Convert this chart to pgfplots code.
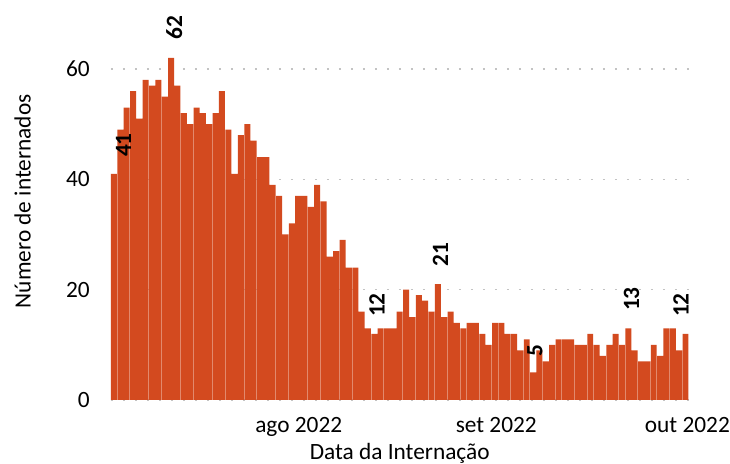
\documentclass[border=0pt]{standalone}
\usepackage{fontspec}
\setmainfont{Carlito}
\usepackage{pgfplots}
\pgfplotsset{compat=1.18}
\definecolor{barcol}{RGB}{211,74,31}
\definecolor{gridcol}{RGB}{195,195,195}
\begin{document}
\begin{tikzpicture}
\begin{axis}[
  at={(0,0)}, anchor=south west,
  scale only axis,
  width=433.4pt, height=273.1pt,
  xmin=0.5, xmax=91.5, ymin=0, ymax=66,
  axis line style={draw=none},
  clip=false,
  font=\fontsize{17.5}{21}\selectfont,
  /pgf/number format/assume math mode=true,
  ytick={0,20,40,60},
  xtick={30.1,61.2,91.3},
  xticklabels={ago 2022,set 2022,out 2022},
  major tick length=0pt,
  ymajorgrids,
  grid style={gridcol, line width=1.1pt, dash pattern=on 1.3pt off 7.7pt},
  yticklabel style={anchor=east, inner sep=0pt, xshift=-15.6pt},
  xticklabel style={anchor=base, inner sep=0pt, yshift=-24pt},
]
\addplot[ybar, bar width=0.94, fill=barcol, draw=none] coordinates {
(1,41) (2,49) (3,53) (4,56) (5,51) (6,58) (7,57) (8,58) (9,55) (10,62)
(11,57) (12,52) (13,50) (14,53) (15,52) (16,50) (17,52) (18,56) (19,49) (20,41)
(21,48) (22,50) (23,47) (24,44) (25,44) (26,39) (27,37) (28,30) (29,32) (30,37)
(31,37) (32,35) (33,39) (34,36) (35,26) (36,27) (37,29) (38,24) (39,24) (40,16)
(41,13) (42,12) (43,13) (44,13) (45,13) (46,16) (47,20) (48,15) (49,19) (50,18)
(51,16) (52,21) (53,15) (54,16) (55,14) (56,13) (57,14) (58,14) (59,12) (60,10)
(61,14) (62,14) (63,12) (64,12) (65,9) (66,11) (67,5) (68,9) (69,7) (70,10)
(71,11) (72,11) (73,11) (74,10) (75,10) (76,12) (77,10) (78,8) (79,10) (80,12)
(81,10) (82,13) (83,9) (84,7) (85,7) (86,10) (87,8) (88,13) (89,13) (90,9)
(91,12)
};
\begin{scope}[every node/.style={rotate=90, anchor=west, inner sep=0pt, font=\fontsize{17.5}{21}\selectfont\bfseries}]
\node at (axis cs:2.5,44.0) {41};
\node at (axis cs:10.5,65.25) {62};
\node at (axis cs:42.4,15.0) {12};
\node at (axis cs:52.4,24.1) {21};
\node at (axis cs:67.3,7.85) {5};
\node at (axis cs:82.5,16.1) {13};
\node at (axis cs:90.3,15.0) {12};
\end{scope}
\node[rotate=90, anchor=center] at (axis cs:-13.4,36) {Número de internados};
\node[anchor=base] at (axis cs:46,-10.7) {Data da Internação};
\end{axis}
\pgfresetboundingbox
\path[use as bounding box] (-83.1pt,-47.25pt) rectangle (464.4pt,300pt);
\end{tikzpicture}
\end{document}
